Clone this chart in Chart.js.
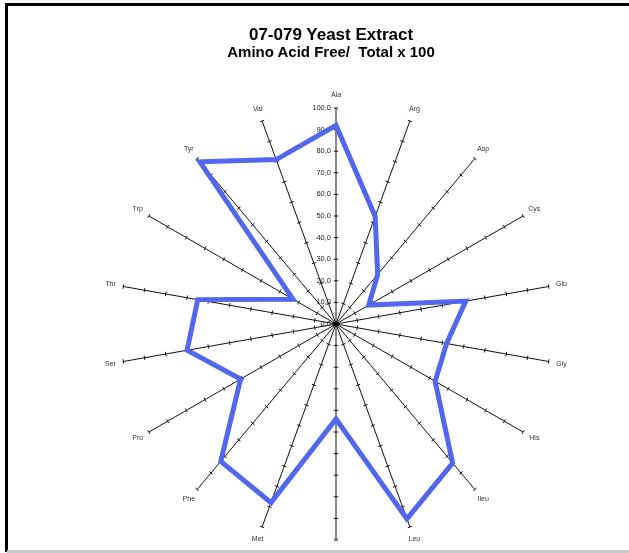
<!DOCTYPE html>
<html>
<head>
<meta charset="utf-8">
<script src="https://cdn.jsdelivr.net/npm/chart.js@4/dist/chart.umd.min.js"></script>
<style>
  html, body { margin: 0; padding: 0; background: #fff; overflow: hidden; }
  #wrap { position: relative; width: 629px; height: 553px; }
  #grafico { position: absolute; left: 0; top: 0; }
  .titulo { position: absolute; left: 0; width: 662px; text-align: center; font-family: "Liberation Sans", Arial, sans-serif; font-weight: bold; color: #000; white-space: pre; }
  #t1 { top: 25px; font-size: 17px; }
  #t2 { top: 43px; font-size: 15px; }
  .borda { position: absolute; background: #000; }
</style>
</head>
<body>
<div id="wrap">
  <canvas id="grafico" width="629" height="553"></canvas>
  <div class="titulo" id="t1">07-079 Yeast Extract</div>
  <div class="titulo" id="t2">Amino Acid Free/  Total x 100</div>
  <div class="borda" style="left:5px;top:3px;width:624px;height:2.5px;"></div>
  <div class="borda" style="left:5px;top:3px;width:2.5px;height:549px;"></div>
  <div style="position:absolute;left:7px;top:550px;width:622px;height:3px;background:#c9c9cc;"></div>
</div>
<script>
// aminoácidos (o rótulo Lys fica cortado na borda de baixo)
const aminoacidos = ['Ala', 'Arg', 'Asp', 'Cys', 'Glu', 'Gly', 'His', 'Ileu', 'Leu', 'Lys', 'Met', 'Phe', 'Pro', 'Ser', 'Thr', 'Trp', 'Tyr', 'Val'];
const livreSobreTotal = [92, 53, 30, 17.5, 61, 52, 53, 84, 96, 44, 88, 83, 51, 70, 65, 23, 98, 81];
const valoresEscala = [0, 10, 20, 30, 40, 50, 60, 70, 80, 90, 100];
const rotulosEscala = ['0,0', '10,0', '20,0', '30,0', '40,0', '50,0', '60,0', '70,0', '80,0', '90,0', '100,0'];

// desenha as marquinhas em cada eixo, os números da escala e os nomes
const marcasEixos = {
    id: 'marcasEixos',
    beforeDatasetsDraw(chart) {
        const r = chart.scales.r;
        const ctx = chart.ctx;
        const n = chart.data.labels.length;
        ctx.save();
        ctx.strokeStyle = '#111';
        ctx.lineWidth = 1;
        ctx.beginPath();
        for (let i = 0; i < n; i++) {
            const ang = r.getIndexAngle(i) - Math.PI / 2;
            const px = -Math.sin(ang), py = Math.cos(ang);
            valoresEscala.forEach(v => {
                if (v === 0) return;
                const p = r.getPointPosition(i, r.getDistanceFromCenterForValue(v));
                ctx.moveTo(p.x - px * 2.2, p.y - py * 2.2);
                ctx.lineTo(p.x + px * 2.2, p.y + py * 2.2);
            });
        }
        ctx.stroke();

        // bolinha preta no centro, onde os eixos se juntam
        ctx.fillStyle = '#000';
        ctx.beginPath();
        ctx.arc(r.xCenter, r.yCenter, 2.5, 0, Math.PI * 2);
        ctx.fill();

        // números da escala no eixo Ala
        ctx.fillStyle = '#222';
        ctx.font = '7.5px "Liberation Sans", Arial, sans-serif';
        ctx.textAlign = 'right';
        ctx.textBaseline = 'middle';
        valoresEscala.forEach((v, k) => {
            const d = r.getDistanceFromCenterForValue(v);
            ctx.fillText(rotulosEscala[k], r.xCenter - 5, r.yCenter - d);
        });

        // nomes dos aminoácidos
        ctx.fillStyle = '#333';
        ctx.font = '7px "Liberation Sans", Arial, sans-serif';
        ctx.textAlign = 'center';
        for (let i = 0; i < n; i++) {
            const p = r.getPointPosition(i, r.drawingArea + 13);
            ctx.fillText(chart.data.labels[i], p.x, p.y);
        }
        ctx.restore();
    }
};

const ctx = document.getElementById('grafico').getContext('2d');
new Chart(ctx, {
    type: 'radar',
    data: {
        labels: aminoacidos,
        datasets: [{
            label: 'Free/Total x 100',
            data: livreSobreTotal,
            borderColor: '#5266ee',
            borderWidth: 5,
            borderJoinStyle: 'miter',
            fill: false,
            pointRadius: 0,
            tension: 0
        }]
    },
    options: {
        responsive: false,
        animation: false,
        layout: { padding: { left: 120, right: 77, top: 108, bottom: 13 } },
        plugins: {
            legend: { display: false },
            tooltip: { enabled: false }
        },
        scales: {
            r: {
                min: 0,
                max: 100,
                ticks: { display: false, stepSize: 10 },
                grid: { display: false },
                angleLines: { display: true, color: '#111', lineWidth: 1 },
                pointLabels: { display: false }
            }
        }
    },
    plugins: [marcasEixos]
});
</script>
</body>
</html>
